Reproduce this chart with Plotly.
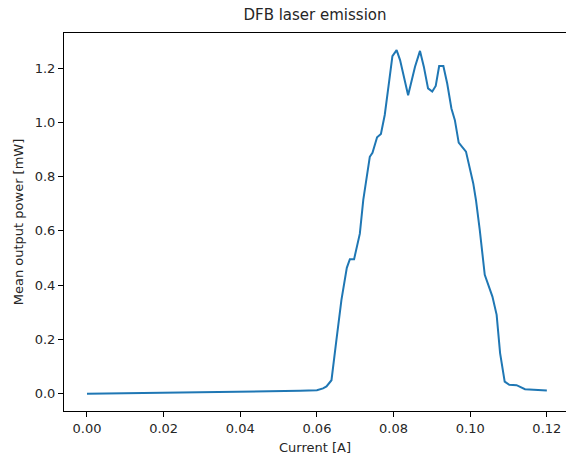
import plotly.graph_objects as go

current = [0.0, 0.02, 0.04, 0.0556, 0.06, 0.0616, 0.0625, 0.0638, 0.0651, 0.0664,
           0.0678, 0.0686, 0.0697, 0.0712, 0.0721, 0.073, 0.0738, 0.0745, 0.0757,
           0.0767, 0.0777, 0.0789, 0.0797, 0.0808, 0.0817, 0.0838, 0.0856, 0.0869,
           0.0879, 0.089, 0.0901, 0.091, 0.0919, 0.093, 0.094, 0.0951, 0.096,
           0.097, 0.0989, 0.1008, 0.1015, 0.1025, 0.1038, 0.1058, 0.1069, 0.1078,
           0.109, 0.1102, 0.1121, 0.1143, 0.12]
power = [0.0, 0.003, 0.007, 0.011, 0.013, 0.02, 0.027, 0.05, 0.2, 0.346,
         0.464, 0.496, 0.496, 0.59, 0.714, 0.80, 0.873, 0.888, 0.945,
         0.957, 1.027, 1.156, 1.244, 1.266, 1.229, 1.10, 1.205, 1.263,
         1.205, 1.125, 1.113, 1.134, 1.207, 1.207, 1.143, 1.051, 1.008,
         0.925, 0.892, 0.775, 0.714, 0.603, 0.438, 0.358, 0.291, 0.15,
         0.045, 0.033, 0.032, 0.017, 0.012]

x_ticks = [0.0, 0.02, 0.04, 0.06, 0.08, 0.10, 0.12]
y_ticks = [0.0, 0.2, 0.4, 0.6, 0.8, 1.0, 1.2]

font = "DejaVu Sans"

fig = go.Figure()
fig.add_trace(go.Scatter(x=current, y=power, mode="lines",
                         line=dict(color="#1f77b4", width=2), showlegend=False))

fig.update_layout(
    width=566, height=455,
    margin=dict(l=64, r=0, t=33, b=44),
    paper_bgcolor="white", plot_bgcolor="white",
    font=dict(family=font, size=13, color="#262626"),
    title=dict(text="DFB laser emission", x=0.5, xref="paper", xanchor="center",
               y=1, yref="paper", yanchor="bottom", pad=dict(b=13),
               font=dict(family=font, size=15, color="#262626")),
    xaxis=dict(range=[-0.006, 0.125], tickvals=x_ticks, tickformat=".2f",
               automargin=False,
               showgrid=False, zeroline=False, showline=True, linecolor="black",
               linewidth=1, mirror=True, ticks="outside", ticklen=5, tickcolor="black",
               title=dict(text="Current [A]", standoff=9, font=dict(size=13))),
    yaxis=dict(range=[-0.0633, 1.329], tickvals=y_ticks, tickformat=".1f",
               automargin=False,
               showgrid=False, zeroline=False, showline=True, linecolor="black",
               linewidth=1, mirror=False, ticks="outside", ticklen=5, tickcolor="black",
               title=dict(text="Mean output power [mW]", standoff=8, font=dict(size=13))),
)

fig.write_html("out.html", config={"displayModeBar": False},
               post_script="document.body.style.margin='0';document.body.style.overflow='hidden';")
